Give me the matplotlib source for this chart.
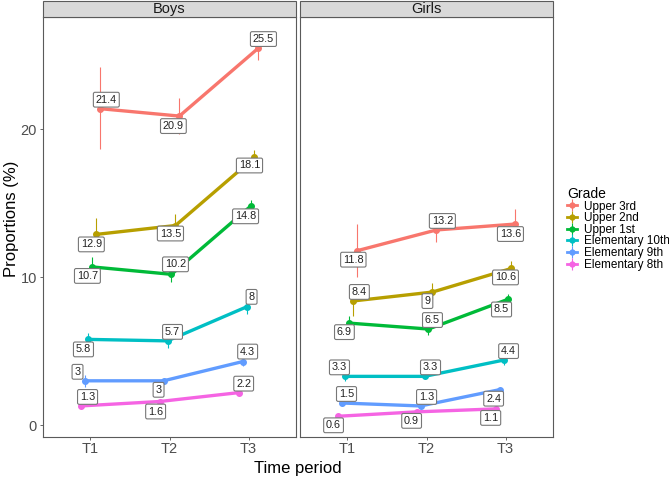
import numpy as np
import matplotlib.pyplot as plt
from matplotlib.lines import Line2D
from matplotlib.patches import Rectangle
from matplotlib.legend_handler import HandlerTuple

plt.rcParams['font.family'] = ['Liberation Sans', 'DejaVu Sans']

# data
grades = ['Upper 3rd', 'Upper 2nd', 'Upper 1st', 'Elementary 10th', 'Elementary 9th', 'Elementary 8th']
colors = ['#F8766D', '#B79F00', '#00BA38', '#00BFC4', '#619CFF', '#F564E3']
times = ['T1', 'T2', 'T3']
panels = ['Boys', 'Girls']

boys_prop = [[21.4, 20.9, 25.5], [12.9, 13.5, 18.1], [10.7, 10.2, 14.8],
             [5.8, 5.7, 8.0], [3.0, 3.0, 4.3], [1.3, 1.6, 2.2]]
boys_lo = [[18.7, 19.7, 24.7], [11.8, 13.0, 17.6], [10.1, 9.7, 14.3],
           [5.4, 5.2, 7.5], [2.6, 2.8, 4.0], [1.1, 1.4, 2.0]]
boys_hi = [[24.2, 22.1, 26.3], [14.0, 14.3, 18.6], [11.4, 10.7, 15.2],
           [6.2, 6.1, 8.5], [3.4, 3.2, 4.6], [1.5, 1.8, 2.4]]

girls_prop = [[11.8, 13.2, 13.6], [8.4, 9.0, 10.6], [6.9, 6.5, 8.5],
              [3.3, 3.3, 4.4], [1.5, 1.3, 2.4], [0.6, 0.9, 1.1]]
girls_lo = [[10.0, 12.4, 12.9], [7.4, 8.5, 10.2], [6.4, 6.1, 8.2],
            [3.0, 3.1, 4.1], [1.3, 1.1, 2.2], [0.5, 0.8, 1.0]]
girls_hi = [[13.6, 14.0, 14.6], [9.4, 9.6, 11.1], [7.4, 6.9, 8.9],
            [3.6, 3.5, 4.8], [1.7, 1.5, 2.6], [0.7, 1.0, 1.2]]

# label nudges (pixels, dy down positive), mimicking the repel layout
boys_lab_off = [[(6, -9), (-6, 10), (5, -9)], [(-5, 10), (-5, 8), (-5, 8)],
                [(-5, 9), (4, -10), (-5, 10)], [(-5, 10), (5, -9), (5, -10)],
                [(-7, -9), (-5, 9), (5, -10)], [(7, -9), (-4, 10), (5, -9)]]
girls_lab_off = [[(-4, 9), (6, -9), (-5, 10)], [(6, -9), (-5, 9), (-6, 9)],
                 [(-5, 9), (4, -9), (-6, 10)], [(-6, -9), (6, -9), (5, -9)],
                 [(5, -9), (6, -9), (-6, 9)], [(-4, 9), (-5, 9), (-5, 9)]]

W, H = 669, 479
fig = plt.figure(figsize=(W / 100, H / 100), dpi=100)
border = '#5a5a5a'

panel_data = [(boys_prop, boys_lo, boys_hi, boys_lab_off),
              (girls_prop, girls_lo, girls_hi, girls_lab_off)]
lefts = [43, 300]
pw = 253
top, bottom = 17, 437

x = np.arange(1, len(times) + 1)
for p, (name, (prop, lo, hi, offs)) in enumerate(zip(panels, panel_data)):
    ax = fig.add_axes([lefts[p] / W, 1 - bottom / H, pw / W, (bottom - top) / H])
    for i, g in enumerate(grades):
        dx = 0.125 - i * 0.05
        xs = x + dx
        ax.plot(xs, prop[i], color=colors[i], lw=2.4, solid_capstyle='round', zorder=3)
        ax.scatter(xs, prop[i], color=colors[i], s=16, zorder=4)
        ax.vlines(xs, lo[i], hi[i], color=colors[i], lw=0.8, zorder=2)
        for j in range(len(times)):
            ox, oy = offs[i][j]
            ax.annotate(f'{prop[i][j]:g}', (xs[j], prop[i][j]),
                        xytext=(ox * 0.72, -oy * 0.72), textcoords='offset points',
                        ha='center', va='center', fontsize=7.8, color='#222222', zorder=6,
                        bbox=dict(boxstyle='round,pad=0.22,rounding_size=0.15',
                                  fc='white', ec='#777777', lw=0.8))
    ax.set_xlim(0.4, 3.6)
    ax.set_ylim(-0.8, 27.6)
    ax.set_xticks(x)
    ax.set_xticklabels(times, fontsize=10.5, color='#4d4d4d')
    ax.set_yticks([0, 10, 20])
    if p == 0:
        ax.set_yticklabels(['0', '10', '20'], fontsize=10.5, color='#4d4d4d')
    else:
        ax.tick_params(axis='y', left=False, labelleft=False)
    ax.tick_params(length=2.5, width=0.6, color='#4d4d4d')
    ax.tick_params(axis='x', pad=0.8)
    ax.tick_params(axis='y', pad=2)
    for s in ax.spines.values():
        s.set_color(border)
        s.set_linewidth(0.8)
    # strip
    fig.patches.append(Rectangle((lefts[p] / W, 1 - top / H), pw / W, 16 / H,
                                 transform=fig.transFigure, fc='#d9d9d9',
                                 ec=border, lw=0.8))
    fig.text((lefts[p] + pw / 2) / W, 1 - 9 / H, name, ha='center', va='center',
             fontsize=10.5, color='#1a1a1a')

fig.text(298 / W, 1 - 469 / H, 'Time period', ha='center', va='center', fontsize=12)
fig.text(12 / W, 1 - 219 / H, 'Proportions (%)', ha='center', va='center',
         rotation=90, fontsize=12)

handles = [(Line2D([], [], color=c, lw=2, marker='o', ms=3.5),
            Line2D([], [], color=c, lw=0, marker='|', ms=8, mew=0.8)) for c in colors]
leg = fig.legend(handles, grades, title='Grade', loc='upper left',
                 bbox_to_anchor=(561 / W, 1 - 181 / H), frameon=False,
                 handler_map={tuple: HandlerTuple(ndivide=1)},
                 fontsize=8.5, title_fontsize=10, handlelength=0.85,
                 handletextpad=0.6, labelspacing=-0.03, borderpad=0)
leg._legend_box.align = 'left'

fig.savefig('out.png', dpi=100)
